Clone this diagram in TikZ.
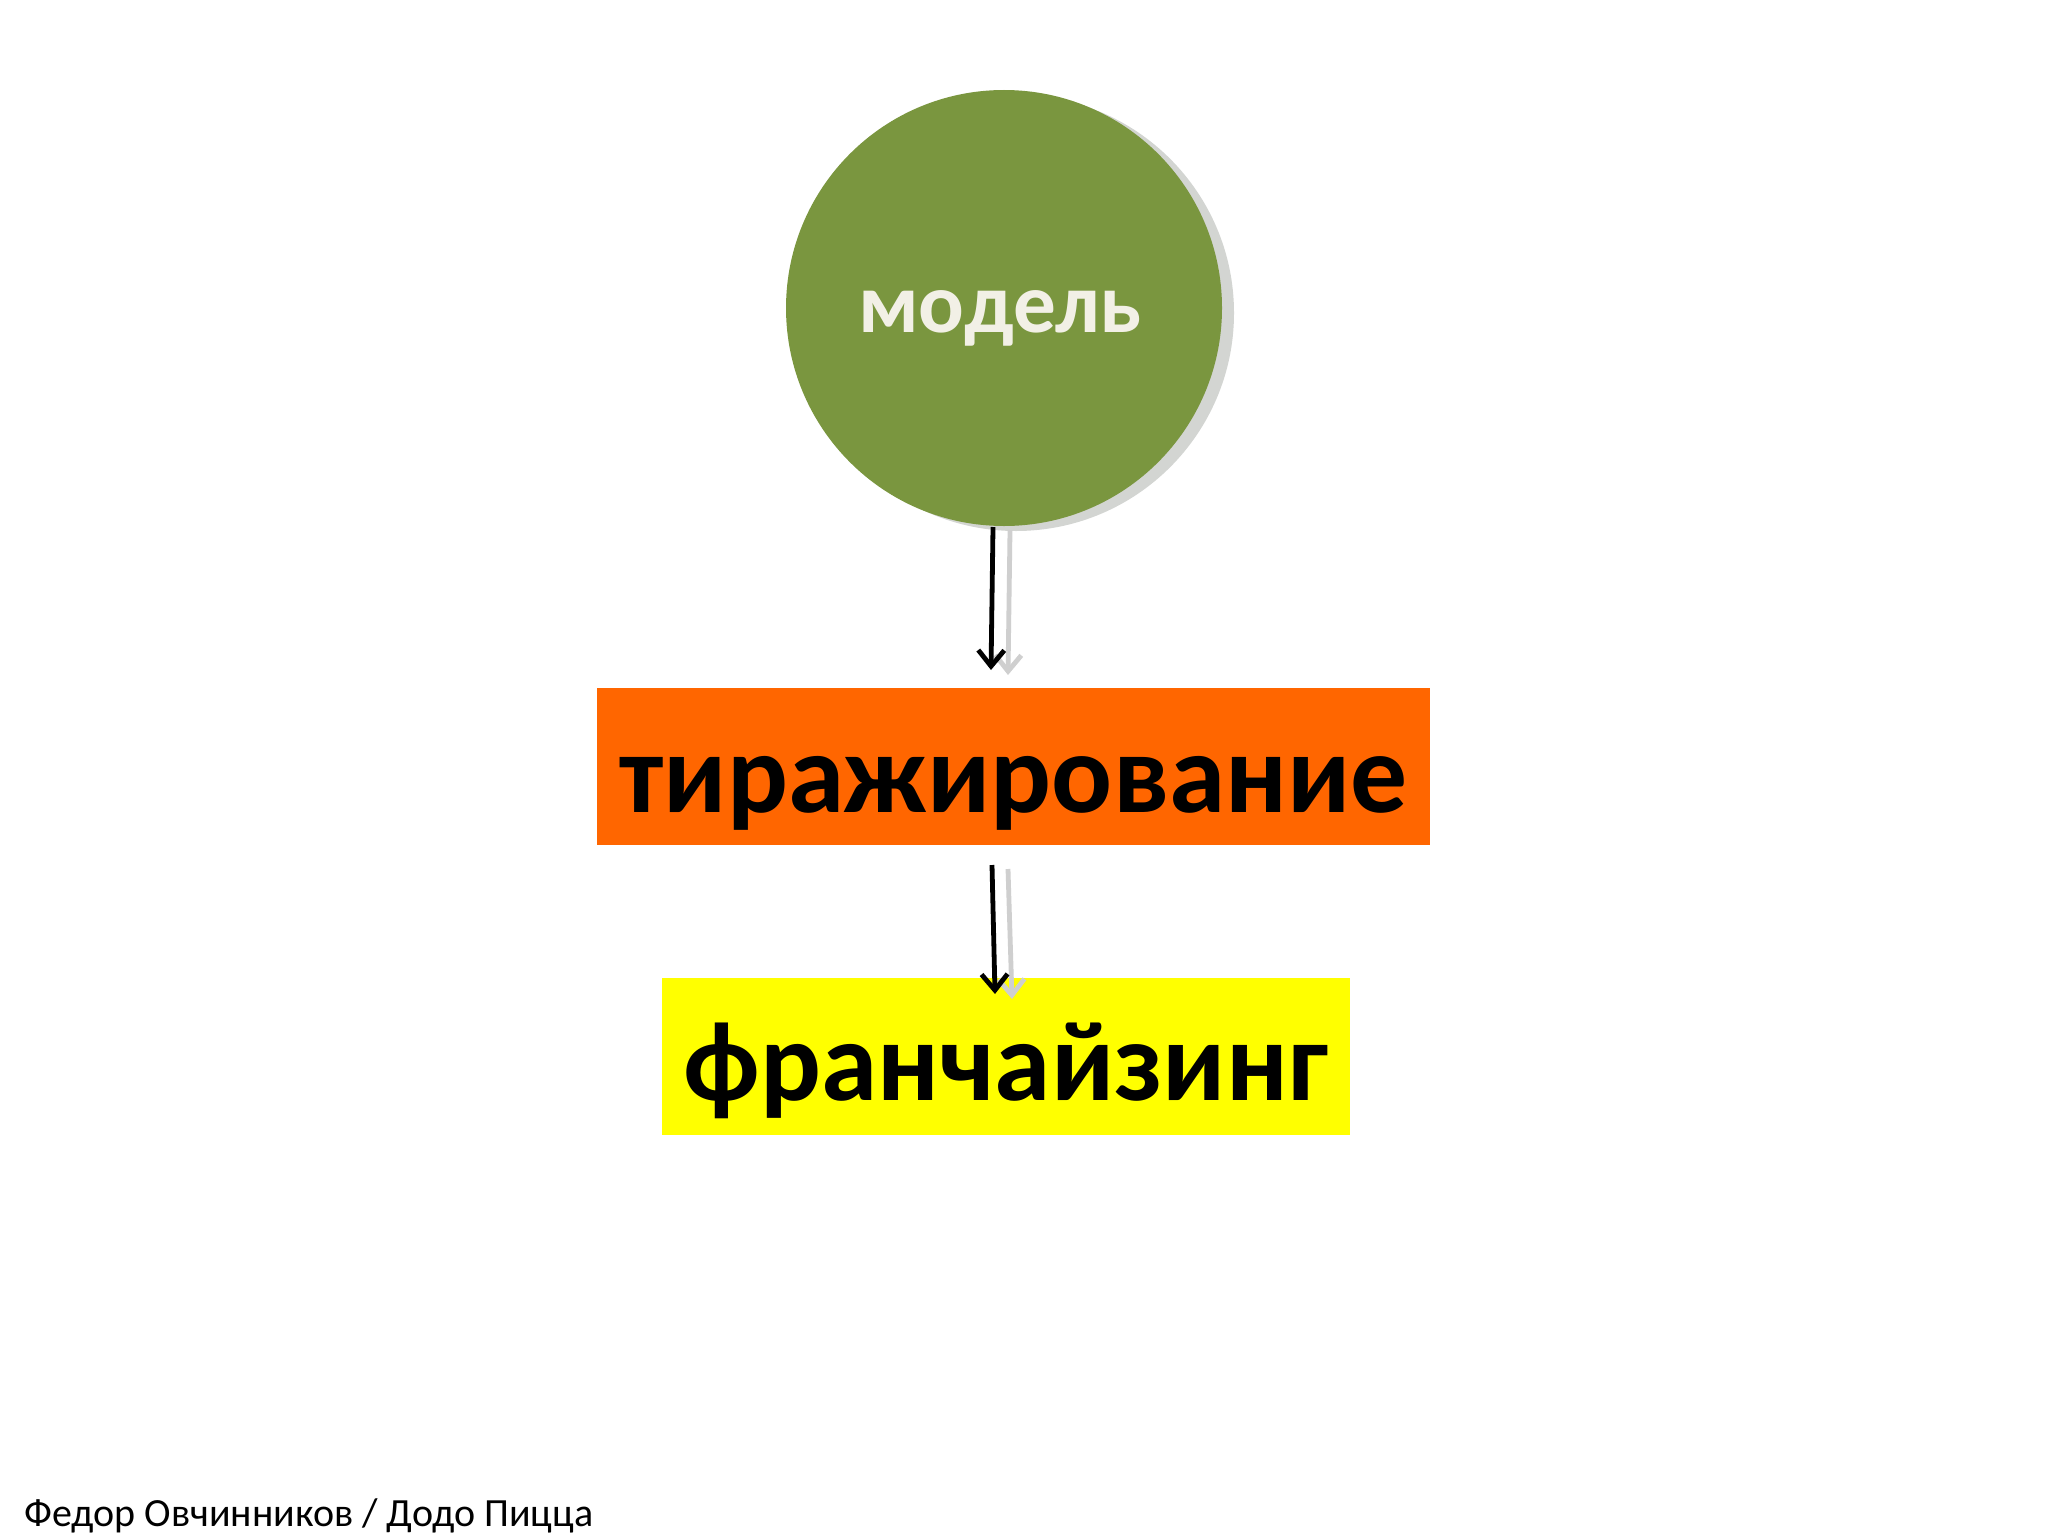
\documentclass[tikz,border=0pt]{standalone}
\usepackage{fontspec}
\setmainfont{Carlito}
\usetikzlibrary{arrows.meta}
\definecolor{modelgreen}{HTML}{7A963F}
\definecolor{shadowgray}{HTML}{D3D5D2}
\definecolor{boxorange}{HTML}{FF6600}
\definecolor{boxyellow}{HTML}{FFFF00}
\definecolor{arrowgray}{HTML}{CFCFCF}
\definecolor{labelwhite}{HTML}{F2F0E6}
\begin{document}
\begin{tikzpicture}[x=0.5pt,y=-0.5pt,
  labelbox/.style={rectangle, inner sep=0pt, font=\bfseries\fontsize{56.8}{60}\selectfont, text=black},
  flowarrow/.style={line width=2.4pt, -{Straight Barb[length=8pt,width=13pt,line width=2.4pt]}},
  shadowarrow/.style={flowarrow, draw=arrowgray}]
\useasboundingbox (0,0) rectangle (2048,1536);
\fill[white] (0,0) rectangle (2048,1536);
% circle with shadow
\fill[shadowgray] (1016,313) circle[radius=218];
\node[circle, fill=modelgreen, minimum size=218pt, inner sep=0pt] (model) at (1004,308) {};
\node[anchor=base, text=labelwhite, font=\bfseries\fontsize{42.6}{48}\selectfont] (modeltext) at (1000,332) {модель};
% boxes
\node[labelbox, fill=boxorange, minimum width=416.5pt, text height=62pt, text depth=16.5pt, anchor=north] (tir) at (1013.5,688) {тиражирование};
\node[labelbox, fill=boxyellow, minimum width=344pt, text height=61pt, text depth=17.5pt, anchor=north] (fran) at (1006,978) {франчайзинг};
% arrow coordinates
\coordinate (a1s) at (993,527);
\coordinate (a1e) at (991,670);
\coordinate (a1gs) at (1010,530);
\coordinate (a1ge) at (1008,675);
\coordinate (a2s) at (992,865);
\coordinate (a2e) at (995,994);
\coordinate (a2gs) at (1008,869);
\coordinate (a2ge) at (1012,999);
\draw[shadowarrow] (a1gs) -- (a1ge);
\draw[flowarrow] (a1s) -- (a1e);
\draw[shadowarrow] (a2gs) -- (a2ge);
\draw[flowarrow] (a2s) -- (a2e);
% footer
\node[anchor=base west, inner sep=0pt, font=\fontsize{20}{24}\selectfont] (footer) at (24,1526) {Федор Овчинников / Додо Пицца};
\end{tikzpicture}
\end{document}
